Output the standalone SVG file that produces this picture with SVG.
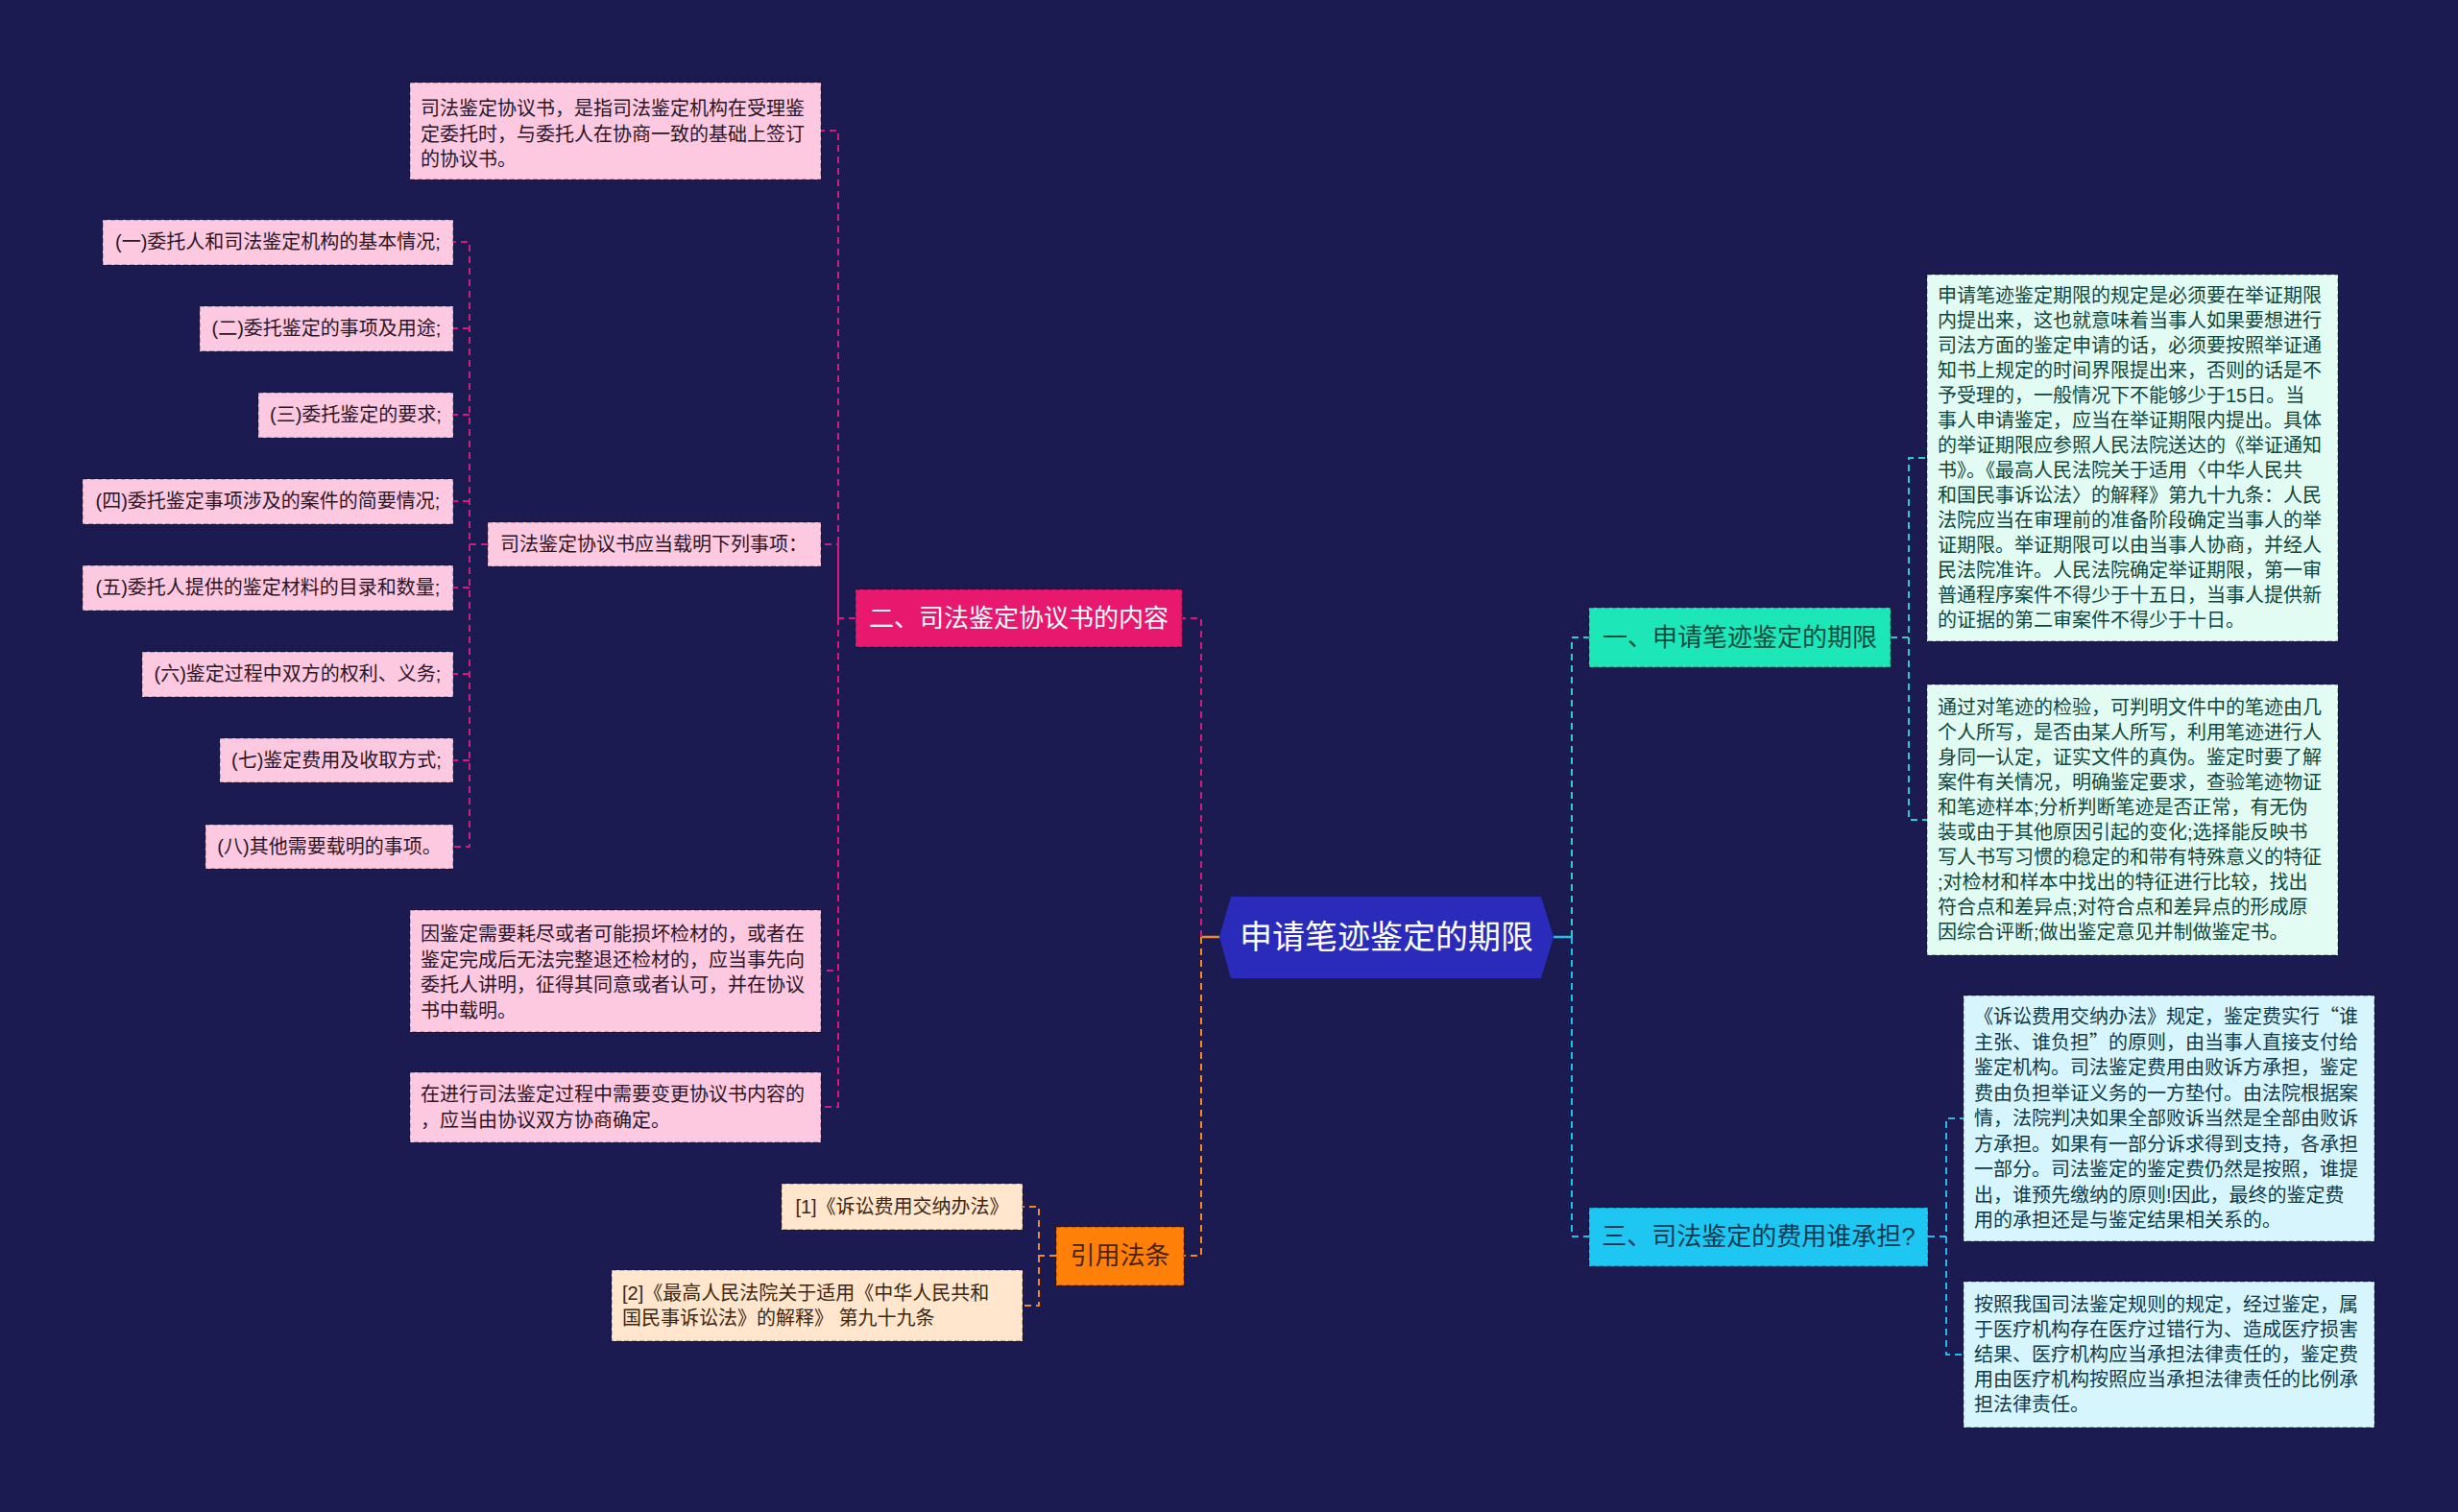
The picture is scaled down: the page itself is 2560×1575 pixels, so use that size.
<svg xmlns="http://www.w3.org/2000/svg" width="2560" height="1575" viewBox="0 0 2560 1575">
<style>
text{font-family:"Liberation Sans","Noto Sans CJK SC",sans-serif;}
.q{font-family:"Noto Sans CJK SC",sans-serif;}
.c{font-size:20px;}
.b{font-size:26px;}
.m{text-anchor:middle;}
.pk{fill:#fcc9e0;stroke:#000;stroke-opacity:.3;stroke-width:1.5;stroke-dasharray:5 3;}
.pkt{fill:#2e1526;}
.mt{fill:#e2fcf4;stroke:#000;stroke-opacity:.3;stroke-width:1.5;stroke-dasharray:5 3;}
.mtt{fill:#10463b;}
.cy{fill:#d7f5fd;stroke:#000;stroke-opacity:.3;stroke-width:1.5;stroke-dasharray:5 3;}
.cyt{fill:#0f3a48;}
.pc{fill:#ffe6cc;stroke:#000;stroke-opacity:.3;stroke-width:1.5;stroke-dasharray:5 3;}
.pct{fill:#3d2612;}
.br{stroke:#000;stroke-opacity:.3;stroke-width:1.5;stroke-dasharray:5 3;}
.ln{fill:none;stroke-width:2;stroke-dasharray:7 5;}
</style>
<rect width="2560" height="1575" fill="#1b1a51"/>

<g id="connectors">
<path d="M1270 976 H1251" fill="none" stroke="#f08a24" stroke-width="2.5"/>
<path class="ln" stroke="#d8187a" d="M1251 976 V644 H1231"/>
<path class="ln" stroke="#f08a24" d="M1251 976 V1308 H1233"/>
<path d="M1618 976 H1637" fill="none" stroke="#22bfe8" stroke-width="2.5"/>
<path class="ln" stroke="#2fd2c0" d="M1637 976 V664 H1655"/>
<path class="ln" stroke="#22bfe8" d="M1637 976 V1288 H1655"/>
<path class="ln" stroke="#d8187a" d="M891 644 H873 V136 H855 M873 644 V567 H855 M873 644 V1011 H855 M873 644 V1153 H855"/>
<path class="ln" stroke="#d8187a" d="M508 567 H489 V252 H472 M489 342 H472 M489 432 H472 M489 522 H472 M489 567 V882 H472 M489 612 H472 M489 702 H472 M489 792 H472"/>
<path class="ln" stroke="#f08a24" d="M1100 1308 H1082 V1257 H1065 M1082 1308 V1360 H1065"/>
<path class="ln" stroke="#35c9cc" d="M1969 664 H1988 V477 H2007 M1988 664 V854 H2007"/>
<path class="ln" stroke="#2ab8e8" d="M2008 1288 H2027 V1165 H2045 M2027 1288 V1411 H2045"/>
</g>

<g id="center">
<polygon points="1270,976 1282,934 1605,934 1618,976 1605,1019 1282,1019" fill="#2b2bbb"/>
<text x="1444" y="988" class="m" font-size="34" fill="#ffffff">申请笔迹鉴定的期限</text>
</g>

<g id="b2">
<rect x="891" y="614" width="340" height="60" fill="#e8186f" class="br"/>
<text x="1061" y="653" class="b m" fill="#ffffff">二、司法鉴定协议书的内容</text>
</g>

<g id="b2c1">
<rect x="427" y="86" width="428" height="101" class="pk"/>
<text class="c pkt"><tspan x="438" y="120">司法鉴定协议书，是指司法鉴定机构在受理鉴</tspan><tspan x="438" y="146.5">定委托时，与委托人在协商一致的基础上签订</tspan><tspan x="438" y="173">的协议书。</tspan></text>
</g>

<g id="b2c2">
<rect x="508" y="544" width="347" height="46" class="pk"/>
<text x="681" y="574" class="c m pkt">司法鉴定协议书应当载明下列事项：</text>
</g>

<g id="s1"><rect x="107" y="229" width="365" height="47" class="pk"/><text x="289.5" y="259" class="c m pkt">(一)委托人和司法鉴定机构的基本情况;</text></g>
<g id="s2"><rect x="208" y="319" width="264" height="47" class="pk"/><text x="340" y="349" class="c m pkt">(二)委托鉴定的事项及用途;</text></g>
<g id="s3"><rect x="269" y="409" width="203" height="47" class="pk"/><text x="370.5" y="439" class="c m pkt">(三)委托鉴定的要求;</text></g>
<g id="s4"><rect x="86" y="499" width="386" height="47" class="pk"/><text x="279" y="529" class="c m pkt">(四)委托鉴定事项涉及的案件的简要情况;</text></g>
<g id="s5"><rect x="86" y="589" width="386" height="47" class="pk"/><text x="279" y="619" class="c m pkt">(五)委托人提供的鉴定材料的目录和数量;</text></g>
<g id="s6"><rect x="148" y="679" width="324" height="47" class="pk"/><text x="310" y="709" class="c m pkt">(六)鉴定过程中双方的权利、义务;</text></g>
<g id="s7"><rect x="229" y="769" width="243" height="46" class="pk"/><text x="350.5" y="799" class="c m pkt">(七)鉴定费用及收取方式;</text></g>
<g id="s8"><rect x="214" y="859" width="258" height="46" class="pk"/><text x="343" y="889" class="c m pkt">(八)其他需要载明的事项。</text></g>

<g id="b2c3">
<rect x="427" y="948" width="428" height="127" class="pk"/>
<text class="c pkt"><tspan x="438" y="980">因鉴定需要耗尽或者可能损坏检材的，或者在</tspan><tspan x="438" y="1006.5">鉴定完成后无法完整退还检材的，应当事先向</tspan><tspan x="438" y="1033">委托人讲明，征得其同意或者认可，并在协议</tspan><tspan x="438" y="1059.5">书中载明。</tspan></text>
</g>

<g id="b2c4">
<rect x="427" y="1117" width="428" height="73" class="pk"/>
<text class="c pkt"><tspan x="438" y="1147">在进行司法鉴定过程中需要变更协议书内容的</tspan><tspan x="438" y="1174">，应当由协议双方协商确定。</tspan></text>
</g>

<g id="cite">
<rect x="1100" y="1278" width="133" height="61" fill="#ff8008" class="br"/>
<text x="1166.5" y="1317" class="b m" fill="#4a2200">引用法条</text>
</g>
<g id="cite1">
<rect x="814" y="1233" width="251" height="48" class="pc"/>
<text x="939.5" y="1264" class="c m pct">[1]《诉讼费用交纳办法》</text>
</g>
<g id="cite2">
<rect x="637" y="1323" width="428" height="74" class="pc"/>
<text class="c pct"><tspan x="648" y="1354">[2]《最高人民法院关于适用《中华人民共和</tspan><tspan x="648" y="1380">国民事诉讼法》的解释》 第九十九条</tspan></text>
</g>

<g id="b1">
<rect x="1655" y="633" width="314" height="62" fill="#1de6b8" class="br"/>
<text x="1812" y="673" class="b m" fill="#0d4d40">一、申请笔迹鉴定的期限</text>
</g>
<g id="b1c1">
<rect x="2007" y="286" width="428" height="382" class="mt"/>
<text class="c mtt"><tspan x="2018" y="315">申请笔迹鉴定期限的规定是必须要在举证期限</tspan><tspan x="2018" y="341">内提出来，这也就意味着当事人如果要想进行</tspan><tspan x="2018" y="367">司法方面的鉴定申请的话，必须要按照举证通</tspan><tspan x="2018" y="393">知书上规定的时间界限提出来，否则的话是不</tspan><tspan x="2018" y="419">予受理的，一般情况下不能够少于15日。当</tspan><tspan x="2018" y="445">事人申请鉴定，应当在举证期限内提出。具体</tspan><tspan x="2018" y="471">的举证期限应参照人民法院送达的《举证通知</tspan><tspan x="2018" y="497">书》。《最高人民法院关于适用〈中华人民共</tspan><tspan x="2018" y="523">和国民事诉讼法〉的解释》第九十九条：人民</tspan><tspan x="2018" y="549">法院应当在审理前的准备阶段确定当事人的举</tspan><tspan x="2018" y="575">证期限。举证期限可以由当事人协商，并经人</tspan><tspan x="2018" y="601">民法院准许。人民法院确定举证期限，第一审</tspan><tspan x="2018" y="627">普通程序案件不得少于十五日，当事人提供新</tspan><tspan x="2018" y="653">的证据的第二审案件不得少于十日。</tspan></text>
</g>
<g id="b1c2">
<rect x="2007" y="713" width="428" height="282" class="mt"/>
<text class="c mtt"><tspan x="2018" y="744">通过对笔迹的检验，可判明文件中的笔迹由几</tspan><tspan x="2018" y="770">个人所写，是否由某人所写，利用笔迹进行人</tspan><tspan x="2018" y="796">身同一认定，证实文件的真伪。鉴定时要了解</tspan><tspan x="2018" y="822">案件有关情况，明确鉴定要求，查验笔迹物证</tspan><tspan x="2018" y="848">和笔迹样本;分析判断笔迹是否正常，有无伪</tspan><tspan x="2018" y="874">装或由于其他原因引起的变化;选择能反映书</tspan><tspan x="2018" y="900">写人书写习惯的稳定的和带有特殊意义的特征</tspan><tspan x="2018" y="926">;对检材和样本中找出的特征进行比较，找出</tspan><tspan x="2018" y="952">符合点和差异点;对符合点和差异点的形成原</tspan><tspan x="2018" y="978">因综合评断;做出鉴定意见并制做鉴定书。</tspan></text>
</g>

<g id="b3">
<rect x="1655" y="1258" width="353" height="61" fill="#1ec6f2" class="br"/>
<text x="1831.5" y="1297" class="b m" fill="#0f3a52">三、司法鉴定的费用谁承担?</text>
</g>
<g id="b3c1">
<rect x="2045" y="1037" width="428" height="256" class="cy"/>
<text class="c cyt"><tspan x="2056" y="1066">《诉讼费用交纳办法》规定，鉴定费实行<tspan class="q">“</tspan>谁</tspan><tspan x="2056" y="1092.5">主张、谁负担<tspan class="q">”</tspan>的原则，由当事人直接支付给</tspan><tspan x="2056" y="1119">鉴定机构。司法鉴定费用由败诉方承担，鉴定</tspan><tspan x="2056" y="1145.5">费由负担举证义务的一方垫付。由法院根据案</tspan><tspan x="2056" y="1172">情，法院判决如果全部败诉当然是全部由败诉</tspan><tspan x="2056" y="1198.5">方承担。如果有一部分诉求得到支持，各承担</tspan><tspan x="2056" y="1225">一部分。司法鉴定的鉴定费仍然是按照，谁提</tspan><tspan x="2056" y="1251.5">出，谁预先缴纳的原则!因此，最终的鉴定费</tspan><tspan x="2056" y="1278">用的承担还是与鉴定结果相关系的。</tspan></text>
</g>
<g id="b3c2">
<rect x="2045" y="1335" width="428" height="152" class="cy"/>
<text class="c cyt"><tspan x="2056" y="1366">按照我国司法鉴定规则的规定，经过鉴定，属</tspan><tspan x="2056" y="1392">于医疗机构存在医疗过错行为、造成医疗损害</tspan><tspan x="2056" y="1418">结果、医疗机构应当承担法律责任的，鉴定费</tspan><tspan x="2056" y="1444">用由医疗机构按照应当承担法律责任的比例承</tspan><tspan x="2056" y="1470">担法律责任。</tspan></text>
</g>
</svg>
